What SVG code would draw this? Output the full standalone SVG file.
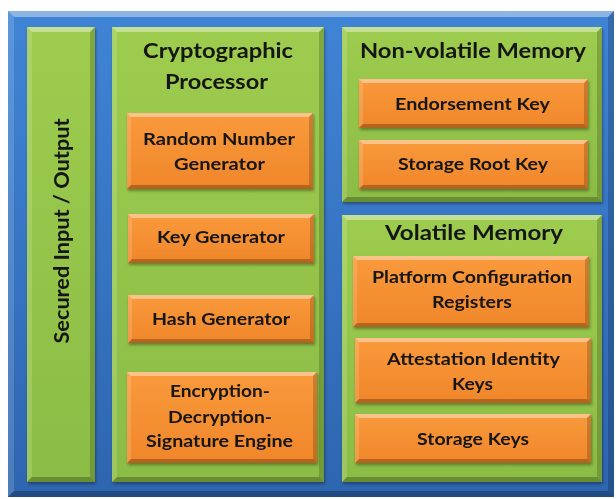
<svg xmlns="http://www.w3.org/2000/svg" width="616" height="499" viewBox="0 0 616 499">
<defs>
<linearGradient id="gBlue" x1="0" y1="0" x2="0" y2="1"><stop offset="0" stop-color="#4084D6"/><stop offset="1" stop-color="#2E65AF"/></linearGradient>
<linearGradient id="gGreen" x1="0" y1="0" x2="0" y2="1"><stop offset="0" stop-color="#9DCC4F"/><stop offset="1" stop-color="#8BBC45"/></linearGradient>
<linearGradient id="gOrange" x1="0" y1="0" x2="0" y2="1"><stop offset="0" stop-color="#F99A3C"/><stop offset="1" stop-color="#F0862A"/></linearGradient>
<filter id="sh" x="-10%" y="-10%" width="120%" height="130%"><feDropShadow dx="1" dy="2" stdDeviation="1.5" flood-color="#000" flood-opacity="0.35"/></filter>
</defs>
<style>
.blue{fill:url(#gBlue)}
.green{fill:url(#gGreen)}
.orange{fill:url(#gOrange)}
.hl{fill:#fff;opacity:.4}
.lt{fill:#fff;opacity:.15}
.dk{fill:#000;opacity:.18}
.bt{fill:#000;opacity:.25}
text{font-family:Lato,"Open Sans","Liberation Sans",sans-serif;font-weight:bold;fill:#141414;text-anchor:middle}
.h{font-size:20px}
.t{font-size:17.5px}
</style>
<rect x="0" y="0" width="616" height="499" fill="#fff"/>
<g id="frame">
<rect class="blue" x="8" y="11" width="606" height="486"/>
<polygon class="hl" points="8,11 614,11 608,17 14,17"/>
<polygon class="lt" points="8,11 14,17 14,491 8,497"/>
<polygon class="dk" points="614,11 614,497 608,491 608,17"/>
<polygon class="bt" points="8,497 614,497 608,491 14,491"/>
</g>
<g id="secured-io" filter="url(#sh)">
<rect class="green" x="27" y="27" width="68" height="455"/>
<polygon class="hl" points="27,27 95,27 90,32 32,32"/>
<polygon class="lt" points="27,27 32,32 32,477 27,482"/>
<polygon class="dk" points="95,27 95,482 90,477 90,32"/>
<polygon class="bt" points="27,482 95,482 90,477 32,477"/>
<text transform="translate(69,231) rotate(-90)" x="0" y="0" textLength="225" lengthAdjust="spacingAndGlyphs" style="font-size:21px">Secured Input / Output</text>
</g>
<g id="crypto-processor" filter="url(#sh)">
<rect class="green" x="112" y="27" width="212" height="455"/>
<polygon class="hl" points="112,27 324,27 319,32 117,32"/>
<polygon class="lt" points="112,27 117,32 117,477 112,482"/>
<polygon class="dk" points="324,27 324,482 319,477 319,32"/>
<polygon class="bt" points="112,482 324,482 319,477 117,477"/>
<text class="h" x="218" y="58" textLength="150" lengthAdjust="spacingAndGlyphs">Cryptographic</text>
<text class="h" x="216.5" y="89" textLength="103" lengthAdjust="spacingAndGlyphs">Processor</text>
</g>
<g id="nonvolatile-memory" filter="url(#sh)">
<rect class="green" x="342" y="27" width="260" height="175"/>
<polygon class="hl" points="342,27 602,27 597,32 347,32"/>
<polygon class="lt" points="342,27 347,32 347,197 342,202"/>
<polygon class="dk" points="602,27 602,202 597,197 597,32"/>
<polygon class="bt" points="342,202 602,202 597,197 347,197"/>
<text class="h" x="473" y="58" textLength="226" lengthAdjust="spacingAndGlyphs">Non-volatile Memory</text>
</g>
<g id="volatile-memory" filter="url(#sh)">
<rect class="green" x="342" y="215" width="260" height="267"/>
<polygon class="hl" points="342,215 602,215 597,220 347,220"/>
<polygon class="lt" points="342,215 347,220 347,477 342,482"/>
<polygon class="dk" points="602,215 602,482 597,477 597,220"/>
<polygon class="bt" points="342,482 602,482 597,477 347,477"/>
<text class="h" x="474" y="240" textLength="178" lengthAdjust="spacingAndGlyphs">Volatile Memory</text>
</g>
<g id="rng" filter="url(#sh)">
<rect class="orange" x="127" y="113" width="186" height="76"/>
<polygon class="hl" points="127,113 313,113 309,117 131,117"/>
<polygon class="lt" points="127,113 131,117 131,185 127,189"/>
<polygon class="dk" points="313,113 313,189 309,185 309,117"/>
<polygon class="bt" points="127,189 313,189 309,185 131,185"/>
<text class="t" x="219" y="145" textLength="152" lengthAdjust="spacingAndGlyphs">Random Number</text>
<text class="t" x="219.5" y="170" textLength="91" lengthAdjust="spacingAndGlyphs">Generator</text>
</g>
<g id="key-generator" filter="url(#sh)">
<rect class="orange" x="128" y="214" width="186" height="49"/>
<polygon class="hl" points="128,214 314,214 310,218 132,218"/>
<polygon class="lt" points="128,214 132,218 132,259 128,263"/>
<polygon class="dk" points="314,214 314,263 310,259 310,218"/>
<polygon class="bt" points="128,263 314,263 310,259 132,259"/>
<text class="t" x="221" y="243" textLength="128" lengthAdjust="spacingAndGlyphs">Key Generator</text>
</g>
<g id="hash-generator" filter="url(#sh)">
<rect class="orange" x="128" y="295" width="186" height="48"/>
<polygon class="hl" points="128,295 314,295 310,299 132,299"/>
<polygon class="lt" points="128,295 132,299 132,339 128,343"/>
<polygon class="dk" points="314,295 314,343 310,339 310,299"/>
<polygon class="bt" points="128,343 314,343 310,339 132,339"/>
<text class="t" x="221" y="325" textLength="138" lengthAdjust="spacingAndGlyphs">Hash Generator</text>
</g>
<g id="encryption-engine" filter="url(#sh)">
<rect class="orange" x="127" y="372" width="190" height="91"/>
<polygon class="hl" points="127,372 317,372 313,376 131,376"/>
<polygon class="lt" points="127,372 131,376 131,459 127,463"/>
<polygon class="dk" points="317,372 317,463 313,459 313,376"/>
<polygon class="bt" points="127,463 317,463 313,459 131,459"/>
<text class="t" x="220" y="397" textLength="100" lengthAdjust="spacingAndGlyphs">Encryption-</text>
<text class="t" x="220" y="423" textLength="104" lengthAdjust="spacingAndGlyphs">Decryption-</text>
<text class="t" x="219.5" y="447" textLength="147" lengthAdjust="spacingAndGlyphs">Signature Engine</text>
</g>
<g id="endorsement-key" filter="url(#sh)">
<rect class="orange" x="359" y="79" width="229" height="49"/>
<polygon class="hl" points="359,79 588,79 584,83 363,83"/>
<polygon class="lt" points="359,79 363,83 363,124 359,128"/>
<polygon class="dk" points="588,79 588,128 584,124 584,83"/>
<polygon class="bt" points="359,128 588,128 584,124 363,124"/>
<text class="t" x="472.5" y="110" textLength="155" lengthAdjust="spacingAndGlyphs">Endorsement Key</text>
</g>
<g id="storage-root-key" filter="url(#sh)">
<rect class="orange" x="359" y="140" width="229" height="49"/>
<polygon class="hl" points="359,140 588,140 584,144 363,144"/>
<polygon class="lt" points="359,140 363,144 363,185 359,189"/>
<polygon class="dk" points="588,140 588,189 584,185 584,144"/>
<polygon class="bt" points="359,189 588,189 584,185 363,185"/>
<text class="t" x="473" y="170" textLength="150" lengthAdjust="spacingAndGlyphs">Storage Root Key</text>
</g>
<g id="pcr" filter="url(#sh)">
<rect class="orange" x="353" y="256" width="236" height="71"/>
<polygon class="hl" points="353,256 589,256 585,260 357,260"/>
<polygon class="lt" points="353,256 357,260 357,323 353,327"/>
<polygon class="dk" points="589,256 589,327 585,323 585,260"/>
<polygon class="bt" points="353,327 589,327 585,323 357,323"/>
<text class="t" x="472" y="283" textLength="200" lengthAdjust="spacingAndGlyphs">Platform Configuration</text>
<text class="t" x="472" y="308" textLength="80" lengthAdjust="spacingAndGlyphs">Registers</text>
</g>
<g id="aik" filter="url(#sh)">
<rect class="orange" x="355" y="338" width="236" height="65"/>
<polygon class="hl" points="355,338 591,338 587,342 359,342"/>
<polygon class="lt" points="355,338 359,342 359,399 355,403"/>
<polygon class="dk" points="591,338 591,403 587,399 587,342"/>
<polygon class="bt" points="355,403 591,403 587,399 359,399"/>
<text class="t" x="473.5" y="365" textLength="173" lengthAdjust="spacingAndGlyphs">Attestation Identity</text>
<text class="t" x="472.5" y="390" textLength="41" lengthAdjust="spacingAndGlyphs">Keys</text>
</g>
<g id="storage-keys" filter="url(#sh)">
<rect class="orange" x="355" y="414" width="236" height="49"/>
<polygon class="hl" points="355,414 591,414 587,418 359,418"/>
<polygon class="lt" points="355,414 359,418 359,459 355,463"/>
<polygon class="dk" points="591,414 591,463 587,459 587,418"/>
<polygon class="bt" points="355,463 591,463 587,459 359,459"/>
<text class="t" x="473" y="445" textLength="112" lengthAdjust="spacingAndGlyphs">Storage Keys</text>
</g>
<g id="connectors"/>
</svg>
